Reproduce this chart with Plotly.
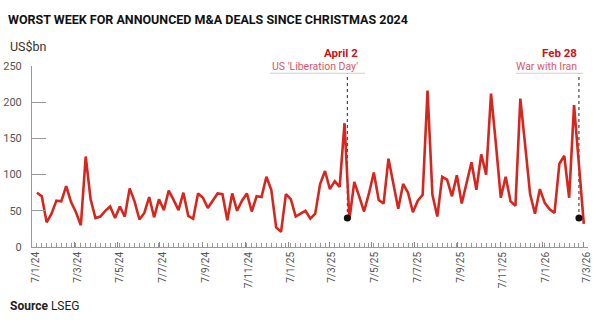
import plotly.graph_objects as go
import pandas as pd

# Weekly announced M&A deal value, US$bn
values = [
    75, 70, 34, 46, 64, 63, 84, 62, 48, 30,
    125, 66, 40, 42, 50, 56, 40, 56, 42, 81,
    63, 38, 47, 69, 41, 66, 51, 78, 65, 51,
    75, 43, 39, 74, 68, 54, 64, 74, 73, 37,
    74, 50, 64, 74, 49, 70, 69, 97, 79, 27,
    21, 73, 66, 42, 46, 50, 39, 46, 87, 105,
    80, 91, 83, 171, 38, 90, 70, 49, 74, 103,
    65, 60, 122, 86, 53, 87, 75, 48, 64, 72,
    216, 72, 42, 97, 93, 70, 99, 60, 90, 117,
    79, 128, 100, 212, 142, 68, 97, 63, 57, 205,
    140, 73, 46, 80, 61, 52, 47, 115, 126, 68,
    196, 112, 32,
]
dates = pd.date_range("2024-01-13", periods=len(values), freq="7D")

tick_dates = ["2024-01-07", "2024-03-07", "2024-05-07", "2024-07-07", "2024-09-07",
              "2024-11-07", "2025-01-07", "2025-03-07", "2025-05-07", "2025-07-07",
              "2025-09-07", "2025-11-07", "2026-01-07", "2026-03-07"]
tick_labels = ["7/1/24", "7/3/24", "7/5/24", "7/7/24", "7/9/24", "7/11/24", "7/1/25",
               "7/3/25", "7/5/25", "7/7/25", "7/9/25", "7/11/25", "7/1/26", "7/3/26"]
y_ticks = [0, 50, 100, 150, 200, 250]

event_dates = ["2025-04-02", "2026-02-28"]
event_titles = ["April 2", "Feb 28"]
event_subtitles = ["US 'Liberation Day'", "War with Iran"]
event_marker_level = 40
event_line_top = 240

# layout constants (pixels -> paper coords)
W, H = 608, 324
L, R, T, B = 32, 20, 66, 77
pw, ph = W - L - R, H - T - B
def px(x):
    return (x - L) / pw
def py(y):
    return (H - B - y) / ph

text_right = [360, 579]
underline = [(270, 365), (516, 583)]

RED = "#d7261e"
FONT = "Roboto"

fig = go.Figure()
fig.add_trace(go.Scatter(
    x=dates, y=values, mode="lines",
    line=dict(color=RED, width=2.6),
    hoverinfo="skip", showlegend=False,
))

for i, d in enumerate(event_dates):
    fig.add_shape(type="line", xref="x", yref="y", x0=d, x1=d,
                  y0=event_marker_level, y1=event_line_top,
                  line=dict(color="#222", width=1, dash="3px,3px"), layer="below")
    fig.add_shape(type="line", xref="paper", yref="y",
                  x0=px(underline[i][0]), x1=px(underline[i][1]),
                  y0=event_line_top, y1=event_line_top,
                  line=dict(color="#cfcfcf", width=1.2))
    fig.add_annotation(xref="paper", yref="paper", x=px(text_right[i]), y=py(53),
                       text="<b>%s</b>" % event_titles[i], showarrow=False,
                       xanchor="right", yanchor="middle",
                       font=dict(family=FONT, size=11.5, color="#d0111b"))
    fig.add_annotation(xref="paper", yref="paper", x=px(text_right[i]), y=py(66),
                       text=event_subtitles[i], showarrow=False,
                       xanchor="right", yanchor="middle",
                       font=dict(family=FONT, size=10.5, color="#d9566a"))

fig.add_trace(go.Scatter(
    x=event_dates, y=[event_marker_level] * len(event_dates), mode="markers",
    marker=dict(color="#111", size=7), hoverinfo="skip", showlegend=False,
))

fig.add_annotation(xref="paper", yref="paper", x=px(8), y=py(46), text="US$bn",
                   showarrow=False, xanchor="left", yanchor="middle",
                   font=dict(family=FONT, size=12.5, color="#333"))
fig.add_annotation(xref="paper", yref="paper", x=px(8), y=py(306),
                   text="<b>Source</b> LSEG", showarrow=False,
                   xanchor="left", yanchor="middle",
                   font=dict(family=FONT, size=12, color="#222"))

fig.update_layout(
    width=W, height=H,
    margin=dict(l=L, r=R, t=T, b=B, autoexpand=False),
    paper_bgcolor="white", plot_bgcolor="white",
    title=dict(text="<b>WORST WEEK FOR ANNOUNCED M&A DEALS SINCE CHRISTMAS 2024</b>",
               x=8 / W, xanchor="left", xref="container",
               y=1 - 20 / H, yanchor="middle", yref="container",
               font=dict(family=FONT, size=12.5, color="#111")),
    font=dict(family=FONT),
)

fig.update_xaxes(
    type="date", range=["2024-01-06", "2026-03-13"], automargin=False,
    tickvals=tick_dates, ticktext=tick_labels, tickangle=-90,
    ticks="inside", ticklen=5, tickcolor="#888", tickwidth=1,
    minor=dict(ticks="inside", ticklen=4, tickcolor="#999", dtick=7 * 86400000,
               tick0="2024-01-13", showgrid=False),
    showline=True, linecolor="#999", linewidth=1,
    showgrid=False, zeroline=False,
    tickfont=dict(family=FONT, size=10, color="#555"),
    ticklabelshift=3,
)
fig.update_yaxes(
    range=[0, 250], tickvals=y_ticks, automargin=False,
    ticks="inside", ticklen=14, tickcolor="#999", tickwidth=1,
    showline=True, linecolor="#999", linewidth=1,
    showgrid=False, zeroline=False,
    tickfont=dict(family=FONT, size=11, color="#555"),
    ticklabelstandoff=7,
)

fig.write_html("out.html")
